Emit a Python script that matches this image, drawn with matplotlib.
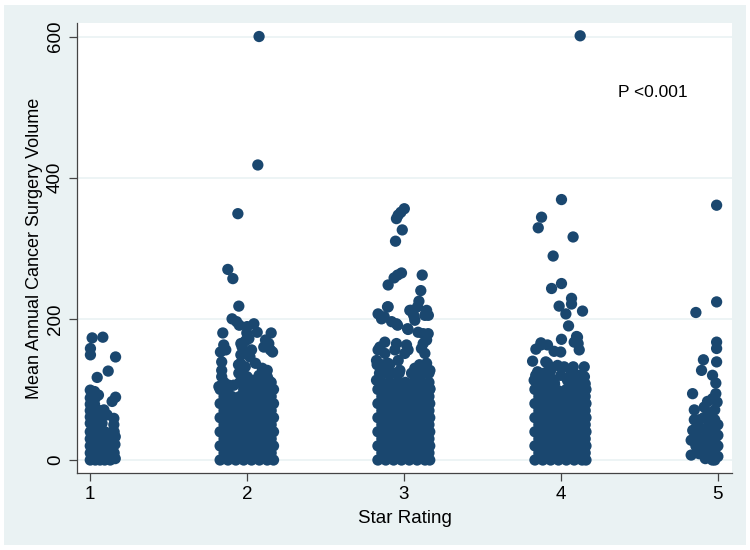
import numpy as np
import matplotlib.pyplot as plt
from matplotlib.patches import Rectangle

plt.rcParams['font.family'] = ['Liberation Sans', 'DejaVu Sans']

# (jittered star rating, mean annual cancer surgery volume)
star1 = [
    (1.015, 173), (1.083, 174), (1.004, 158), (1.004, 149), (1.164, 146), (1.117, 126), (1.047, 117),
    (1.164, 89), (1.142, 83), (1.09, 71), (1.11, 64), (1.153, 59), (1.078, 52), (1.153, 50),
    (1.003, 99), (1.03, 97), (1.003, 88), (1.035, 88), (1.055, 92), (1.003, 79), (1.03, 79),
    (1.003, 70), (1.035, 70), (1.06, 70), (1.003, 61), (1.03, 61), (1.055, 61), (1.003, 52), (1.035, 52),
    (1.003, 40), (1.035, 40), (1.065, 40), (1.095, 40), (1.125, 38), (1.155, 40),
    (1.003, 30), (1.03, 30), (1.06, 30), (1.09, 30), (1.14, 30), (1.162, 33),
    (1.003, 20), (1.035, 20), (1.065, 20), (1.1, 20), (1.13, 20), (1.16, 22),
    (1.003, 10), (1.03, 10), (1.06, 10), (1.095, 10), (1.125, 10), (1.155, 10),
    (1.003, 0), (1.035, 0), (1.065, 0), (1.095, 0), (1.13, 0), (1.162, 2),
]

star2 = [
    (2.078, 600), (2.07, 418), (1.943, 349), (1.879, 270), (1.911, 257), (1.949, 218), (1.906, 200),
    (1.935, 196), (1.952, 191), (2.002, 189), (2.045, 193), (2.066, 181), (1.847, 180), (2.155, 180),
    (1.992, 169), (2.013, 172), (2.119, 170), (2.108, 160), (2.14, 165), (1.853, 163), (1.832, 153),
    (1.97, 160), (1.98, 151), (2.03, 156), (2.02, 146), (2.15, 156), (2.164, 153), (1.866, 156),
    (1.84, 139), (1.84, 127), (1.96, 137), (1.99, 132), (2.055, 137), (2.098, 130), (2.13, 127),
    (1.962, 149), (1.962, 165), (2.0, 180), (1.947, 135), (1.975, 128), (2.078, 120), (2.13, 118),
    (1.84, 118), (1.84, 106), (1.949, 123), (2.002, 118), (2.034, 113), (2.076, 108), (2.14, 113),
    (2.161, 101), (1.822, 104), (1.885, 106), (1.917, 106),
    (1.855, 110), (1.955, 110), (2.005, 110), (2.055, 110), (2.105, 110), (2.155, 110),
    (1.83, 100), (1.88, 100), (1.98, 100), (2.03, 100), (2.08, 100), (2.13, 100), (2.17, 100),
    (1.855, 90), (1.905, 90), (1.955, 90), (2.005, 90), (2.055, 90), (2.105, 90), (2.155, 90),
    (1.83, 80), (1.88, 80), (1.93, 80), (1.98, 80), (2.03, 80), (2.08, 80), (2.13, 80), (2.17, 80),
    (1.855, 70), (1.905, 70), (1.955, 70), (2.005, 70), (2.055, 70), (2.105, 70), (2.155, 70),
    (1.83, 60), (1.88, 60), (1.93, 60), (1.98, 60), (2.03, 60), (2.08, 60), (2.13, 60), (2.17, 60),
    (1.855, 50), (1.905, 50), (1.955, 50), (2.005, 50), (2.055, 50), (2.105, 50), (2.155, 50),
    (1.83, 40), (1.88, 40), (1.93, 40), (1.98, 40), (2.03, 40), (2.08, 40), (2.13, 40), (2.17, 40),
    (1.855, 30), (1.905, 30), (1.955, 30), (2.005, 30), (2.055, 30), (2.105, 30), (2.155, 30),
    (1.83, 20), (1.88, 20), (1.93, 20), (1.98, 20), (2.03, 20), (2.08, 20), (2.13, 20), (2.17, 20),
    (1.855, 10), (1.905, 10), (1.955, 10), (2.005, 10), (2.055, 10), (2.105, 10), (2.155, 10),
    (1.83, 0), (1.88, 0), (1.93, 0), (1.98, 0), (2.03, 0), (2.08, 0), (2.13, 0), (2.17, 0),
]

star3 = [
    (3.003, 356), (2.981, 351), (2.964, 347), (2.953, 342), (2.99, 326), (2.947, 310),
    (2.985, 265), (2.96, 262), (2.938, 258), (2.90, 248), (3.117, 262), (3.108, 240),
    (3.096, 225), (3.087, 217), (2.90, 217), (2.836, 207), (2.858, 200), (3.038, 212),
    (3.059, 207), (3.07, 198), (3.134, 205), (3.156, 205), (3.145, 212), (2.922, 196),
    (2.953, 193), (3.027, 185), (3.091, 181), (3.123, 179), (3.155, 179), (3.145, 170),
    (3.123, 165), (3.112, 158), (2.879, 167), (2.847, 160), (2.836, 156), (2.826, 141),
    (2.953, 165), (2.943, 156), (3.017, 163), (3.027, 156), (3.006, 151), (3.134, 151),
    (3.145, 137), (3.166, 127), (2.879, 151), (2.90, 137), (2.964, 141), (2.975, 127),
    (3.07, 130), (3.049, 123), (3.081, 113), (3.123, 108), (3.166, 101), (2.826, 113),
    (2.858, 108), (2.911, 106), (2.985, 108), (3.027, 104), (3.066, 203), (3.045, 212),
    (3.024, 186), (2.896, 217), (2.875, 203), (2.96, 191),
    (2.83, 135), (2.87, 135), (2.91, 135), (3.10, 135), (3.14, 135),
    (2.845, 123), (2.89, 123), (2.93, 123), (2.97, 123), (3.09, 123), (3.13, 123), (3.16, 123),
    (2.86, 110), (2.91, 110), (2.96, 110), (3.01, 110), (3.06, 110), (3.11, 110), (3.16, 110),
    (2.835, 100), (2.885, 100), (2.935, 100), (2.985, 100), (3.035, 100), (3.085, 100), (3.135, 100), (3.165, 100),
    (2.86, 90), (2.91, 90), (2.96, 90), (3.01, 90), (3.06, 90), (3.11, 90), (3.16, 90),
    (2.835, 80), (2.885, 80), (2.935, 80), (2.985, 80), (3.035, 80), (3.085, 80), (3.135, 80), (3.165, 80),
    (2.86, 70), (2.91, 70), (2.96, 70), (3.01, 70), (3.06, 70), (3.11, 70), (3.16, 70),
    (2.835, 60), (2.885, 60), (2.935, 60), (2.985, 60), (3.035, 60), (3.085, 60), (3.135, 60), (3.165, 60),
    (2.86, 50), (2.91, 50), (2.96, 50), (3.01, 50), (3.06, 50), (3.11, 50), (3.16, 50),
    (2.835, 40), (2.885, 40), (2.935, 40), (2.985, 40), (3.035, 40), (3.085, 40), (3.135, 40), (3.165, 40),
    (2.86, 30), (2.91, 30), (2.96, 30), (3.01, 30), (3.06, 30), (3.11, 30), (3.16, 30),
    (2.835, 20), (2.885, 20), (2.935, 20), (2.985, 20), (3.035, 20), (3.085, 20), (3.135, 20), (3.165, 20),
    (2.86, 10), (2.91, 10), (2.96, 10), (3.01, 10), (3.06, 10), (3.11, 10), (3.16, 10),
    (2.835, 0), (2.885, 0), (2.935, 0), (2.985, 0), (3.035, 0), (3.085, 0), (3.135, 0), (3.165, 0),
]

star4 = [
    (4.123, 601), (4.004, 369), (3.877, 344), (3.856, 329), (4.078, 316), (3.951, 289),
    (4.004, 250), (3.941, 243), (4.068, 229), (4.068, 221), (3.989, 218), (4.032, 207),
    (4.138, 211), (4.049, 190), (4.004, 171), (4.106, 174), (4.085, 167), (4.117, 156),
    (3.873, 166), (3.841, 157), (3.915, 163), (3.957, 154), (3.999, 153), (3.82, 140),
    (3.852, 125), (3.83, 113), (3.904, 139), (3.936, 127), (4.021, 132), (4.064, 127),
    (4.149, 132), (4.117, 120), (3.957, 113), (4.042, 113), (4.085, 108), (4.127, 104),
    (3.873, 163), (3.915, 137), (3.894, 123), (3.979, 134), (4.079, 132), (4.058, 118),
    (4.10, 175), (4.11, 165),
    (3.84, 120), (3.88, 120), (3.93, 118), (4.0, 120), (4.10, 120), (4.15, 118),
    (3.86, 108), (3.91, 108), (3.96, 108), (4.06, 108), (4.11, 108), (4.155, 108),
    (3.835, 100), (3.885, 100), (3.935, 100), (3.985, 98), (4.035, 100), (4.085, 100), (4.135, 100), (4.16, 100),
    (3.86, 90), (3.91, 90), (3.96, 90), (4.01, 90), (4.06, 90), (4.11, 90), (4.155, 90),
    (3.835, 80), (3.885, 80), (3.935, 80), (3.985, 80), (4.035, 80), (4.085, 80), (4.135, 80), (4.16, 80),
    (3.86, 70), (3.91, 70), (3.96, 70), (4.01, 70), (4.06, 70), (4.11, 70), (4.155, 70),
    (3.835, 60), (3.885, 60), (3.935, 60), (3.985, 60), (4.035, 60), (4.085, 60), (4.135, 60), (4.16, 60),
    (3.86, 50), (3.91, 50), (3.96, 50), (4.01, 50), (4.06, 50), (4.11, 50), (4.155, 50),
    (3.835, 40), (3.885, 40), (3.935, 40), (3.985, 40), (4.035, 40), (4.085, 40), (4.135, 40), (4.16, 40),
    (3.86, 30), (3.91, 30), (3.96, 30), (4.01, 30), (4.06, 30), (4.11, 30), (4.155, 30),
    (3.835, 20), (3.885, 20), (3.935, 20), (3.985, 20), (4.035, 20), (4.085, 20), (4.135, 20), (4.16, 20),
    (3.86, 10), (3.91, 10), (3.96, 10), (4.01, 10), (4.06, 10), (4.11, 10), (4.155, 10),
    (3.835, 0), (3.885, 0), (3.935, 0), (3.985, 0), (4.035, 0), (4.085, 0), (4.135, 0), (4.16, 0),
]

star5 = [
    (4.992, 361), (4.992, 224), (4.86, 209), (4.992, 167), (4.992, 158), (4.908, 142),
    (4.992, 139), (4.896, 127), (4.966, 120), (4.987, 109), (4.839, 94), (4.987, 94),
    (4.966, 87), (4.934, 83), (4.913, 75), (4.85, 71), (4.85, 57), (4.84, 42), (4.83, 28),
    (4.83, 7), (4.88, 57), (4.89, 45), (4.87, 33), (4.91, 19), (4.88, 9), (4.98, 71),
    (4.98, 57), (4.98, 42), (4.98, 28), (4.98, 14), (4.98, 0), (4.965, 0), (4.935, 47),
    (4.945, 28), (4.945, 9), (4.92, 2), (4.91, 60), (4.93, 35), (4.955, 52), (4.955, 20),
    (4.9, 28), (4.86, 20), (4.96, 5), (4.93, 14), (4.86, 45), (4.94, 67), (4.995, 82),
    (5.0, 50), (5.0, 35), (5.0, 20), (5.0, 5),
]

groups = [star1, star2, star3, star4, star5]
ratings = [1, 2, 3, 4, 5]
y_ticks = [0, 200, 400, 600]

navy = '#1a476f'
fig = plt.figure(figsize=(7.5, 5.5), dpi=100, facecolor='white')
# light outer background with thin white border
fig.patches.append(Rectangle((4 / 750, 5 / 550), 742 / 750, 540 / 550, transform=fig.transFigure,
                             facecolor='#eaf2f3', edgecolor='none', zorder=-10))
ax = fig.add_axes([0.103, 0.14, 0.873, 0.818])
ax.set_facecolor('white')

for g in groups:
    pts = np.array(g)
    ax.scatter(pts[:, 0], pts[:, 1], s=66, color=navy, edgecolors='none', zorder=3)

ax.set_xlim(0.92, 5.09)
ax.set_ylim(-18.4, 619)
ax.set_xticks(ratings)
ax.set_yticks(y_ticks)
ax.yaxis.grid(True, color='#eaf2f3', lw=1.2)
ax.set_axisbelow(True)
for s in ['top', 'right']:
    ax.spines[s].set_visible(False)
for s in ['left', 'bottom']:
    ax.spines[s].set_color('#444444')
    ax.spines[s].set_linewidth(0.9)
ax.tick_params(direction='out', length=6, width=0.9, color='#444444', labelsize=13.5)
plt.setp(ax.get_yticklabels(), rotation=90, va='center')

ax.set_xlabel('Star Rating', fontsize=13.5, labelpad=5)
ax.set_ylabel('Mean Annual Cancer Surgery Volume', fontsize=13, labelpad=3)
ax.text(4.363, 521, 'P <0.001', fontsize=12.5, va='center')

plt.savefig('out.png', dpi=100, facecolor=fig.get_facecolor())
